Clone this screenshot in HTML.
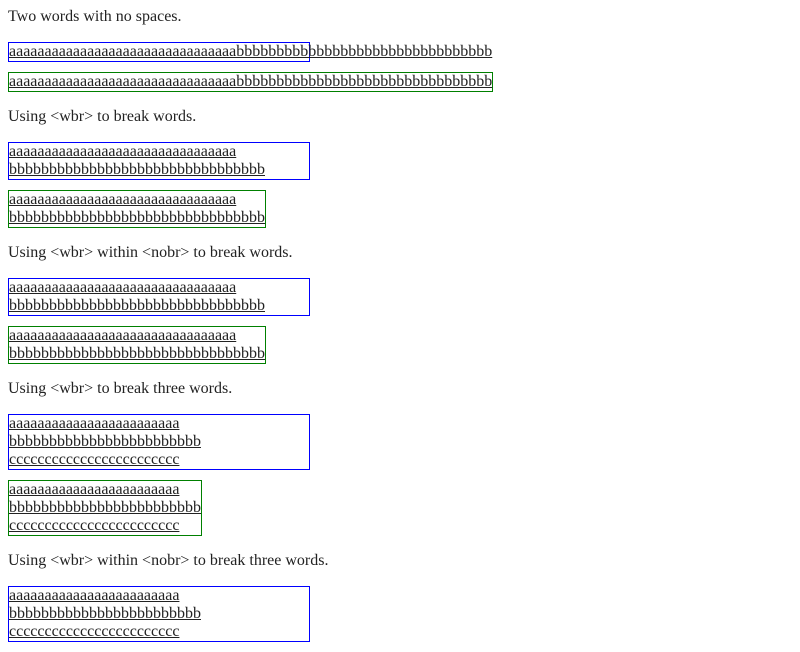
<!DOCTYPE html>
<html><head><style>
body{margin:8px;font-family:"Liberation Serif",serif;font-size:16px;line-height:18px;color:#222;}
p{margin:16px 0;}
.b{width:300px;border:1px solid blue;margin:10px 0;white-space:nowrap;text-decoration:underline;}
.g{width:fit-content;border:1px solid green;margin:10px 0;white-space:nowrap;text-decoration:underline;}
</style></head><body>
<p style="margin-top:0">Two words with no spaces.</p>
<div class="b">aaaaaaaaaaaaaaaaaaaaaaaaaaaaaaaabbbbbbbbbbbbbbbbbbbbbbbbbbbbbbbb</div>
<div class="g">aaaaaaaaaaaaaaaaaaaaaaaaaaaaaaaabbbbbbbbbbbbbbbbbbbbbbbbbbbbbbbb</div>
<p>Using &lt;wbr&gt; to break words.</p>
<div class="b">aaaaaaaaaaaaaaaaaaaaaaaaaaaaaaaa<br>bbbbbbbbbbbbbbbbbbbbbbbbbbbbbbbb</div>
<div class="g">aaaaaaaaaaaaaaaaaaaaaaaaaaaaaaaa<br>bbbbbbbbbbbbbbbbbbbbbbbbbbbbbbbb</div>
<p>Using &lt;wbr&gt; within &lt;nobr&gt; to break words.</p>
<div class="b">aaaaaaaaaaaaaaaaaaaaaaaaaaaaaaaa<br>bbbbbbbbbbbbbbbbbbbbbbbbbbbbbbbb</div>
<div class="g">aaaaaaaaaaaaaaaaaaaaaaaaaaaaaaaa<br>bbbbbbbbbbbbbbbbbbbbbbbbbbbbbbbb</div>
<p>Using &lt;wbr&gt; to break three words.</p>
<div class="b">aaaaaaaaaaaaaaaaaaaaaaaa<br>bbbbbbbbbbbbbbbbbbbbbbbb<br>cccccccccccccccccccccccc</div>
<div class="g">aaaaaaaaaaaaaaaaaaaaaaaa<br>bbbbbbbbbbbbbbbbbbbbbbbb<br>cccccccccccccccccccccccc</div>
<p>Using &lt;wbr&gt; within &lt;nobr&gt; to break three words.</p>
<div class="b">aaaaaaaaaaaaaaaaaaaaaaaa<br>bbbbbbbbbbbbbbbbbbbbbbbb<br>cccccccccccccccccccccccc</div>
</body></html>
